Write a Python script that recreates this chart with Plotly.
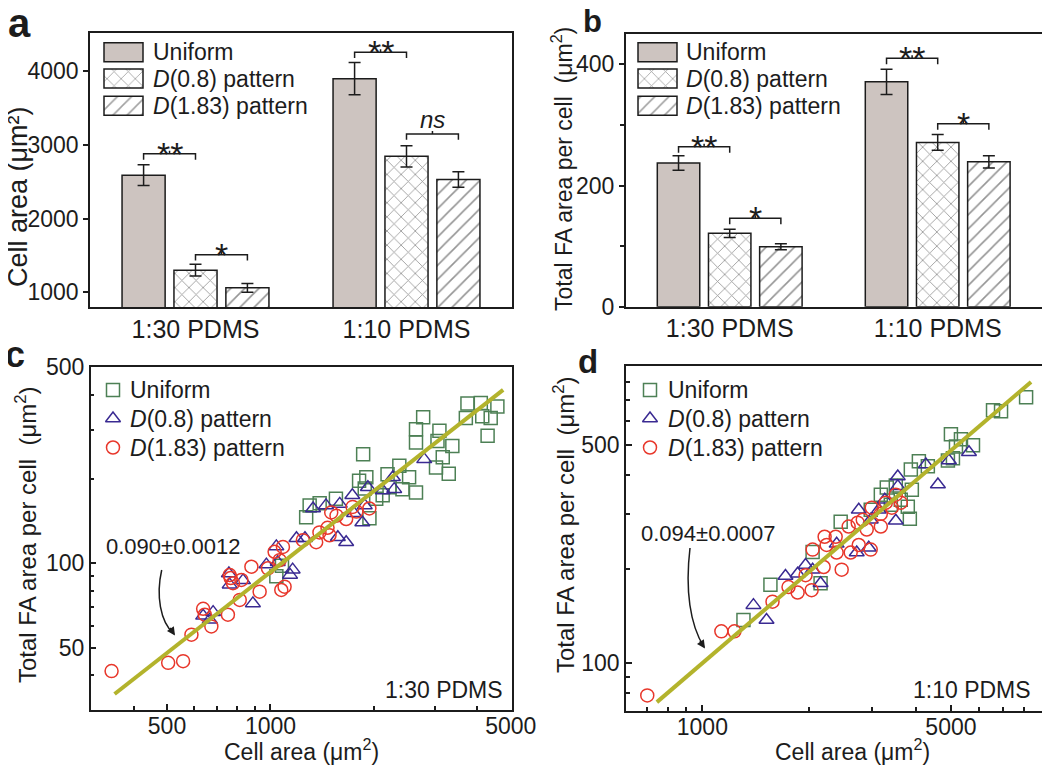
import math
import plotly.graph_objects as go

# page body adds an 8 px offset; the figure is sized so the picture fills the window
OFF = 8
W, H = 1050, 766
FW, FH = W - OFF, H - OFF
FONT = "Liberation Sans, Arial, Helvetica, sans-serif"
INK = "#1c1c1c"
GREY = "#cdc4c0"
GREEN = "#4d8055"
PURPLE = "#3a2a92"
RED = "#e8372b"
OLIVE = "#b3b32c"

# ---------------- data ----------------
categories = ["1:30 PDMS", "1:10 PDMS"]
series_labels = ["Uniform", "<i>D</i>(0.8) pattern", "<i>D</i>(1.83) pattern"]

# panel a: cell area (um^2)
area_uniform = [2590, 3900]
area_uniform_err = [140, 220]
area_d08 = [1300, 2845]
area_d08_err = [80, 145]
area_d183 = [1060, 2530]
area_d183_err = [60, 105]

# panel b: total FA area per cell (um^2)
fa_uniform = [237, 371]
fa_uniform_err = [12, 21]
fa_d08 = [121, 271]
fa_d08_err = [7, 13]
fa_d183 = [99, 239]
fa_d183_err = [5, 10]

# significance brackets: (category, bar i, bar j, level, label)
sig_a = [(0, 0, 1, 2880, "**"), (0, 1, 2, 1510, "*"), (1, 0, 1, 4260, "**"), (1, 1, 2, 3150, "ns")]
sig_b = [(0, 0, 1, 264, "**"), (0, 1, 2, 146, "*"), (1, 0, 1, 410, "**"), (1, 1, 2, 302, "*")]

# panel c: 1:30 PDMS scatter
c_uniform_x = [3740, 4090, 4570, 3700, 4130, 4370, 4280, 2780, 2650, 2650, 3100, 3060, 3380, 3170, 3030,
               3300, 1860, 1900, 1810, 2190, 2370, 2530, 2420, 2650, 2220, 2120, 1550, 1390, 1270, 1940,
               2030, 1040, 1080, 1300, 1880]
c_uniform_y = [372, 373, 363, 330, 335, 330, 285, 332, 301, 270, 297, 273, 262, 239, 220,
               209, 245, 203, 197, 208, 223, 203, 184, 179, 187, 175, 170, 164, 146, 145,
               170, 90, 98, 161, 185]
c_d08_x = [2800, 2270, 2290, 1920, 1730, 1880, 1850, 1590, 1450, 1330, 1660, 1570, 1260, 1190,
           1160, 1140, 1050, 1040, 973, 889, 832, 757, 761, 681, 637, 666, 2120, 1750]
c_d08_y = [235, 203, 184, 187, 175, 161, 140, 163, 161, 157, 119, 124, 123, 123,
           95, 91, 101, 115, 99, 72, 87, 92, 84, 67, 65, 63, 182, 151]
c_d183_x = [345, 504, 557, 589, 637, 644, 673, 752, 761, 778, 823, 814, 880, 930, 983, 1028,
            1087, 1075, 1099, 1063, 1242, 1358, 1388, 1485, 1465, 1502, 1556, 1660, 1734, 1778,
            1939, 766]
c_d183_y = [41.3, 44.2, 44.8, 55.7, 68.9, 65.6, 59.6, 65.6, 90.9, 85, 87.3, 74.1, 97.3, 79.3, 96, 110,
            114.5, 80.4, 82.6, 102.7, 121, 119, 129, 126, 134, 152, 148, 144, 159, 153,
            157, 88.7]
fit_c_x = [352, 4750]
fit_c_y = [34.2, 416]
fit_c_label = "0.090\u00b10.0012"

# panel d: 1:10 PDMS scatter
d_uniform_x = [8135, 6567, 6917, 5000, 5336, 5768, 5166, 5066, 4904, 4063, 4306, 3857, 3301, 3499,
               3882, 3614, 3782, 3832, 2449, 2042, 1554, 1305, 2150, 3176, 2975, 3388]
d_uniform_y = [714, 649, 644, 543, 523, 500, 496, 454, 447, 444, 428, 418, 366, 371,
               360, 334, 317, 290, 284, 227, 178, 137, 180, 347, 310, 322]
d_d08_x = [5620, 4936, 4251, 4596, 3544, 3544, 3258, 2753, 2975, 3499, 2937, 2717, 2386, 1951,
           1713, 1853, 2150, 1392, 1515, 2042, 3134]
d_d08_y = [475, 447, 434, 374, 397, 369, 334, 310, 288, 286, 234, 226, 241, 206,
           190, 193, 180, 153, 137, 199, 310]
d_d183_x = [700, 1131, 1231, 1575, 1747, 1853, 2029, 1951, 2193, 2465, 2042, 2207, 2236, 2371,
            2386, 2613, 2579, 2734, 2899, 2975, 2995, 3176, 3176, 3410, 3499, 3614, 2753, 3280, 2825]
d_d183_y = [78.4, 126, 126, 157, 175, 168, 171, 191, 203, 199, 231, 254, 239, 254,
            226, 226, 274, 282, 268, 231, 315, 301, 274, 315, 347, 327, 239, 327, 288]
fit_d_x = [745, 8400]
fit_d_y = [74.6, 800]
fit_d_label = "0.094\u00b10.0007"

# ---------------- layout helpers (screen pixels -> paper) ----------------
def dx(p0, p1):
    return [(p0 - OFF) / FW, (p1 - OFF) / FW]


def dy(top, bot):
    return [1 - (bot - OFF) / FH, 1 - (top - OFF) / FH]


BARGAP = 0.262
GROUPGAP = 0.17
SLOT = (1 - BARGAP) / 3
MSIZE = 13

fig = go.Figure()

fills = [GREY, "white", "white"]
shapes_pat = ["", "x", "/"]
PATTERN = dict(size=10, solidity=0.16, fgcolor="#2a2a2a", bgcolor="white")


def add_bars(vals_list, errs_list, xa, ya):
    for k, (vals, errs) in enumerate(zip(vals_list, errs_list)):
        fig.add_trace(go.Bar(
            x=[0, 1], y=vals, xaxis=xa, yaxis=ya, name=series_labels[k],
            marker=dict(color=fills[k], line=dict(color=INK, width=1.5),
                        pattern=dict(PATTERN, shape=shapes_pat[k])),
            error_y=dict(type="data", array=errs, color=INK, thickness=1.5, width=6),
        ))


add_bars([area_uniform, area_d08, area_d183], [area_uniform_err, area_d08_err, area_d183_err], "x", "y")
add_bars([fa_uniform, fa_d08, fa_d183], [fa_uniform_err, fa_d08_err, fa_d183_err], "x2", "y2")

marker_style = [("square-open", GREEN), ("triangle-up-open", PURPLE), ("circle-open", RED)]


def add_scatter(xs, ys, k, xa, ya):
    sym, col = marker_style[k]
    fig.add_trace(go.Scatter(x=xs, y=ys, mode="markers", xaxis=xa, yaxis=ya,
                             marker=dict(symbol=sym, size=MSIZE, color=col, line=dict(width=1.5, color=col))))


add_scatter(c_uniform_x, c_uniform_y, 0, "x3", "y3")
add_scatter(c_d08_x, c_d08_y, 1, "x3", "y3")
add_scatter(c_d183_x, c_d183_y, 2, "x3", "y3")
fig.add_trace(go.Scatter(x=fit_c_x, y=fit_c_y, mode="lines", xaxis="x3", yaxis="y3",
                         line=dict(color=OLIVE, width=4)))
add_scatter(d_uniform_x, d_uniform_y, 0, "x4", "y4")
add_scatter(d_d08_x, d_d08_y, 1, "x4", "y4")
add_scatter(d_d183_x, d_d183_y, 2, "x4", "y4")
fig.add_trace(go.Scatter(x=fit_d_x, y=fit_d_y, mode="lines", xaxis="x4", yaxis="y4",
                         line=dict(color=OLIVE, width=4)))

# ---- legend decorations on a pixel overlay axis (x5/y5) ----
patch_rows = [52.2, 78.5, 105.8]
patch_left = [104, 638]
fig.add_trace(go.Bar(
    orientation="h", xaxis="x5", yaxis="y5",
    y=patch_rows * 2, x=[39] * 6, base=[patch_left[0]] * 3 + [patch_left[1]] * 3, width=[19] * 6,
    marker=dict(color=fills * 2, line=dict(color=INK, width=1.5),
                pattern=dict(PATTERN, shape=shapes_pat * 2)),
))
leg_rows = [390, 418.5, 447.5]
for lx in (113, 650):
    fig.add_trace(go.Scatter(
        x=[lx] * 3, y=leg_rows, mode="markers", xaxis="x5", yaxis="y5",
        marker=dict(symbol=[m[0] for m in marker_style], size=MSIZE, color=[m[1] for m in marker_style],
                    line=dict(width=1.5, color=[m[1] for m in marker_style]))))

annotations = []


def txt(x, y, text, size=23, xanchor="center", yanchor="middle", angle=0, bold=False, **kw):
    t = "<b>%s</b>" % text if bold else text
    annotations.append(dict(x=x, y=y, xref="x5", yref="y5", text=t, showarrow=False,
                            font=dict(size=size, family=FONT, color=INK), xanchor=xanchor,
                            yanchor=yanchor, textangle=angle, **kw))


for lx in (151, 684):
    for r, lab in zip(patch_rows, series_labels):
        txt(lx, r, lab, size=23, xanchor="left")
for lx in (128, 666):
    for r, lab in zip(leg_rows, series_labels):
        txt(lx, r, lab, size=23, xanchor="left")

# panel letters
txt(19, 23, "a", size=40, bold=True)
txt(592, 21, "b", size=31, bold=True)
txt(15, 354, "c", size=36, bold=True)
txt(588, 361, "d", size=33, bold=True)

# axis titles
txt(18, 197, "Cell area (\u03bcm\u00b2)", size=27, angle=-90)
txt(562, 169, "Total FA area per cell  (\u03bcm<sup>2</sup>)", size=23, angle=-90)
txt(26, 535, "Total FA area per cell  (\u03bcm<sup>2</sup>)", size=24, angle=-90)
txt(564, 525, "Total FA area per cell  (\u03bcm<sup>2</sup>)", size=24, angle=-90)
txt(301, 750, "Cell area (\u03bcm<sup>2</sup>)", size=23)
txt(852, 750, "Cell area (\u03bcm<sup>2</sup>)", size=23)

# in-panel notes
txt(505, 690, "1:30 PDMS", size=23, xanchor="right")
txt(1033, 690, "1:10 PDMS", size=23, xanchor="right")
txt(104, 546, fit_c_label, size=22, xanchor="left")
txt(639, 533, fit_d_label, size=22, xanchor="left")

shapes = []
# curved arrows (pixel overlay)
shapes.append(dict(type="path", xref="x5", yref="y5", path="M 161.7,570 C 156,595 160,622 174,634",
                   line=dict(color=INK, width=1.5)))
shapes.append(dict(type="path", xref="x5", yref="y5", path="M 690,548 C 685,590 690,625 704,647",
                   line=dict(color=INK, width=1.5)))
for tx, ty in ((175, 635.5), (705, 648.5)):
    annotations.append(dict(x=tx, y=ty, xref="x5", yref="y5", text="", showarrow=True, ax=-6, ay=-9,
                            arrowhead=2, arrowsize=1.1, arrowwidth=1.5, arrowcolor=INK, standoff=0))


# significance brackets
def add_sig(sig, xr, yr, drop, nub):
    for cat, i, j, lvl, lab in sig:
        xi = cat + (i - 1) * SLOT
        xj = cat + (j - 1) * SLOT
        xm = (xi + xj) / 2
        shapes.append(dict(type="path", xref=xr, yref=yr,
                           path="M %f,%f L %f,%f L %f,%f L %f,%f M %f,%f L %f,%f" % (
                               xi, lvl - drop, xi, lvl, xj, lvl, xj, lvl - drop, xm, lvl, xm, lvl + nub),
                           line=dict(color=INK, width=1.5)))
        if lab == "ns":
            annotations.append(dict(x=xm, y=lvl, xref=xr, yref=yr, text="<i>ns</i>", showarrow=False,
                                    font=dict(size=24, family=FONT, color=INK), yanchor="middle", yshift=14))
        else:
            annotations.append(dict(x=xm, y=lvl, xref=xr, yref=yr, text=lab, showarrow=False,
                                    font=dict(size=34, family=FONT, color=INK), yanchor="middle", yshift=0))


add_sig(sig_a, "x", "y", 80, 40)
add_sig(sig_b, "x2", "y2", 10, 5)

# ---------------- axes ----------------
base_axis = dict(showline=True, mirror=True, linecolor=INK, linewidth=1.5, showgrid=False, zeroline=False,
                 automargin=False,
                 tickfont=dict(size=23, family=FONT, color=INK), tickcolor=INK, tickwidth=1.5)

cat_x = dict(base_axis, range=[-0.5, 1.5], tickvals=[0, 1], ticktext=categories, ticks="",
             tickfont=dict(size=25, family=FONT, color=INK), ticklabelstandoff=-1)

log_minor = lambda vals: dict(tickvals=vals, ticks="inside", ticklen=4, tickwidth=1.5, tickcolor=INK)

fig.update_layout(
    width=FW, height=FH, margin=dict(l=0, r=0, t=0, b=0, pad=0, autoexpand=False),
    paper_bgcolor="white", plot_bgcolor="rgba(0,0,0,0)", showlegend=False,
    barmode="group", bargap=BARGAP, bargroupgap=GROUPGAP,
    font=dict(family=FONT, color=INK),
    xaxis=dict(cat_x, domain=dx(90, 512), anchor="y"),
    yaxis=dict(base_axis, domain=dy(33, 307), anchor="x", range=[800, 4520],
               tickvals=[1000, 2000, 3000, 4000], ticks="outside", ticklen=5),
    xaxis2=dict(cat_x, domain=dx(625.7, 1041.7), anchor="y2"),
    yaxis2=dict(base_axis, domain=dy(34, 306.7), anchor="x2", range=[0, 450],
                tickvals=[0, 200, 400], ticks="outside", ticklen=5,
                minor=dict(tickvals=[100, 300], ticks="outside", ticklen=4, tickwidth=1.5, tickcolor=INK)),
    xaxis3=dict(base_axis, type="log", domain=dx(90.7, 511.7), anchor="y3",
                range=[math.log10(300), math.log10(5030)], tickvals=[500, 1000, 5000],
                ticktext=["500", "1000", "5000"], ticks="inside", ticklen=6, ticklabelstandoff=-5,
                minor=log_minor([400, 600, 700, 800, 900, 2000, 3000, 4000])),
    yaxis3=dict(base_axis, type="log", domain=dy(366.7, 710), anchor="x3",
                range=[math.log10(30), math.log10(503)], tickvals=[50, 100, 500],
                ticktext=["50", "100", "500"], ticks="inside", ticklen=6,
                minor=log_minor([40, 60, 70, 80, 90, 200, 300, 400])),
    xaxis4=dict(base_axis, type="log", domain=dx(626, 1041.7), anchor="y4",
                range=[math.log10(610), math.log10(9000)], tickvals=[1000, 5000],
                ticktext=["1000", "5000"], ticks="inside", ticklen=6, ticklabelstandoff=-5,
                minor=log_minor([700, 800, 900, 2000, 3000, 4000, 6000, 7000, 8000])),
    yaxis4=dict(base_axis, type="log", domain=dy(366, 710.7), anchor="x4",
                range=[math.log10(70), math.log10(900)], tickvals=[100, 500],
                ticktext=["100", "500"], ticks="inside", ticklen=6,
                minor=log_minor([80, 90, 200, 300, 400, 600, 700, 800])),
    xaxis5=dict(domain=[0, 1], range=[OFF, W], visible=False, anchor="y5", fixedrange=True, automargin=False),
    yaxis5=dict(domain=[0, 1], range=[H, OFF], visible=False, anchor="x5", fixedrange=True, automargin=False),
    annotations=annotations,
    shapes=shapes,
)

fig.write_html("out.html")
